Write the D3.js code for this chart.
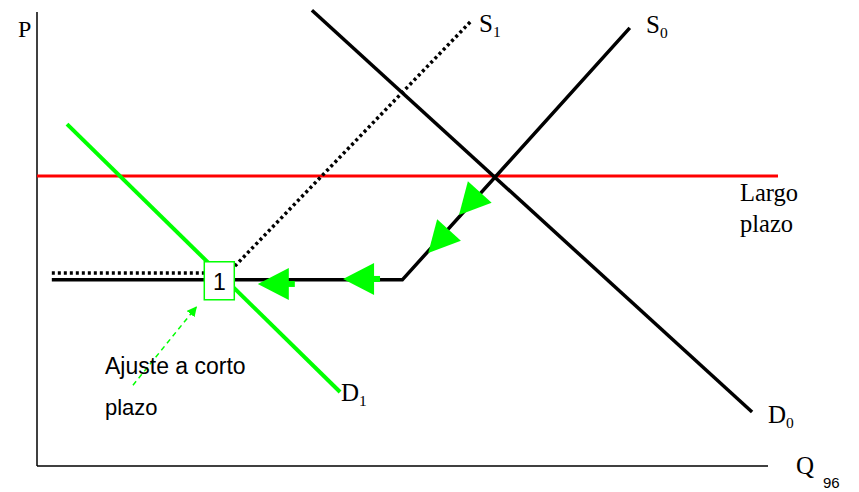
<!DOCTYPE html>
<html>
<head>
<meta charset="utf-8">
<script src="https://cdn.jsdelivr.net/npm/d3@7"></script>
<style>
  body { margin: 0; background: #fff; }
  svg { display: block; }
</style>
</head>
<body>
<div id="chart"></div>
<script>
// curves, in (Q, P) units on a 0..100 scale
const supply0 = [[2.0, 41.0], [49.3, 41.0], [80.0, 96.5]];
const supply1 = [[2.0, 42.5], [25.8, 42.5], [58.7, 98.2]];
const demand0 = [[37.1, 100.4], [96.5, 11.9]];
const demand1 = [[4.05, 75.3], [40.9, 16.3]];
const longRunP = 63.9;
const longRunQ = [0, 100];
// arrow tips along S0: [Q, P, segment of S0]
const arrows = [[29.8, 40.1, 0], [41.3, 41.2, 0], [56.95, 55.3, 1], [52.8, 46.9, 1]];
const pointOne = [24.6, 40.8];
const shortRunArrow = [[12.95, 17.8], [21.5, 35.0]];

const width = 859, height = 492;
const serif = "'Liberation Serif', 'Times New Roman', serif";
const sans = "'Liberation Sans', Arial, sans-serif";
const GREEN = "#00ff00";

const svg = d3.select("#chart").append("svg")
    .attr("width", width)
    .attr("height", height);

const x = d3.scaleLinear().domain([0, 100]).range([37, 778]);
const y = d3.scaleLinear().domain([0, 100]).range([466, 12]);
const line = d3.line().x(d => x(d[0])).y(d => y(d[1]));

/** axes */
svg.append("line")
    .attr("x1", x(0)).attr("x2", x(0))
    .attr("y1", y(100)).attr("y2", y(0))
    .attr("stroke", "#000").attr("stroke-width", 1.5);
svg.append("line")
    .attr("x1", x(0)).attr("x2", x(98.65))
    .attr("y1", y(0)).attr("y2", y(0))
    .attr("stroke", "#000").attr("stroke-width", 1.5);

/** long run price */
svg.append("line")
    .attr("x1", x(longRunQ[0])).attr("x2", x(longRunQ[1]))
    .attr("y1", y(longRunP)).attr("y2", y(longRunP))
    .attr("stroke", "#ff0000").attr("stroke-width", 3);

/** curves */
svg.append("path")
    .attr("d", line(supply1))
    .attr("fill", "none")
    .attr("stroke", "#000")
    .attr("stroke-width", 3.5)
    .attr("stroke-dasharray", "3,3");

svg.append("path")
    .attr("d", line(demand1))
    .attr("fill", "none")
    .attr("stroke", GREEN)
    .attr("stroke-width", 4);

svg.append("path")
    .attr("d", line(demand0))
    .attr("fill", "none")
    .attr("stroke", "#000")
    .attr("stroke-width", 3.5);

svg.append("path")
    .attr("d", line(supply0))
    .attr("fill", "none")
    .attr("stroke", "#000")
    .attr("stroke-width", 3.5)
    .attr("stroke-linejoin", "miter");

/** adjustment arrows */
const headLen = 31, headW = 32;
const head = d3.line()([[0, 0], [-headLen, -headW / 2], [-headLen, headW / 2]]) + "Z";
arrows.forEach(a => {
    const p0 = supply0[a[2] + 1], p1 = supply0[a[2]];
    const ang = Math.atan2(y(p1[1]) - y(p0[1]), x(p1[0]) - x(p0[0])) * 180 / Math.PI;
    const g = svg.append("g")
        .attr("transform", `translate(${x(a[0])},${y(a[1])}) rotate(${ang})`);
    if (a[2] === 0) {
        g.append("rect")
            .attr("x", -headLen - 6).attr("y", -3)
            .attr("width", 8).attr("height", 6)
            .attr("fill", GREEN);
    }
    g.append("path").attr("d", head).attr("fill", GREEN);
});

/** point 1 */
svg.append("rect")
    .attr("x", x(pointOne[0]) - 15).attr("y", y(pointOne[1]) - 19)
    .attr("width", 30).attr("height", 38)
    .attr("fill", "#fff")
    .attr("stroke", GREEN)
    .attr("stroke-width", 1.5);
svg.append("text")
    .attr("x", x(pointOne[0])).attr("y", y(pointOne[1]) + 9)
    .attr("text-anchor", "middle")
    .attr("font-family", sans).attr("font-size", 23)
    .text("1");

/** short run arrow */
svg.append("defs").append("marker")
    .attr("id", "tip")
    .attr("viewBox", "0 0 10 10")
    .attr("refX", 9).attr("refY", 5)
    .attr("markerWidth", 10).attr("markerHeight", 10)
    .attr("markerUnits", "userSpaceOnUse")
    .attr("orient", "auto")
    .append("path")
    .attr("d", "M0,0L10,5L0,10Z")
    .attr("fill", GREEN);
svg.append("path")
    .attr("d", line(shortRunArrow))
    .attr("fill", "none")
    .attr("stroke", GREEN)
    .attr("stroke-width", 1.5)
    .attr("stroke-dasharray", "5,4")
    .attr("marker-end", "url(#tip)");

/** labels */
function label(tx, ty, main, sub, size) {
    const t = svg.append("text")
        .attr("x", tx).attr("y", ty)
        .attr("font-family", serif).attr("font-size", size);
    t.append("tspan").text(main);
    if (sub) t.append("tspan").attr("dy", 5).attr("font-size", size * 0.62).text(sub);
}
label(18, 37, "P", null, 24);
label(479, 32, "S", "1", 25);
label(646, 33, "S", "0", 25);
label(341, 401, "D", "1", 25);
label(768, 423, "D", "0", 25);
label(796, 474, "Q", null, 25);

svg.append("text")
    .attr("x", 740).attr("y", 201)
    .attr("font-family", serif).attr("font-size", 24.5)
    .text("Largo");
svg.append("text")
    .attr("x", 740).attr("y", 232)
    .attr("font-family", serif).attr("font-size", 24.5)
    .text("plazo");

svg.append("text")
    .attr("x", 105).attr("y", 374)
    .attr("font-family", sans).attr("font-size", 23)
    .text("Ajuste a corto");
svg.append("text")
    .attr("x", 105).attr("y", 415)
    .attr("font-family", sans).attr("font-size", 22)
    .text("plazo");

svg.append("text")
    .attr("x", 823).attr("y", 488)
    .attr("font-family", sans).attr("font-size", 15)
    .text("96");
</script>
</body>
</html>
